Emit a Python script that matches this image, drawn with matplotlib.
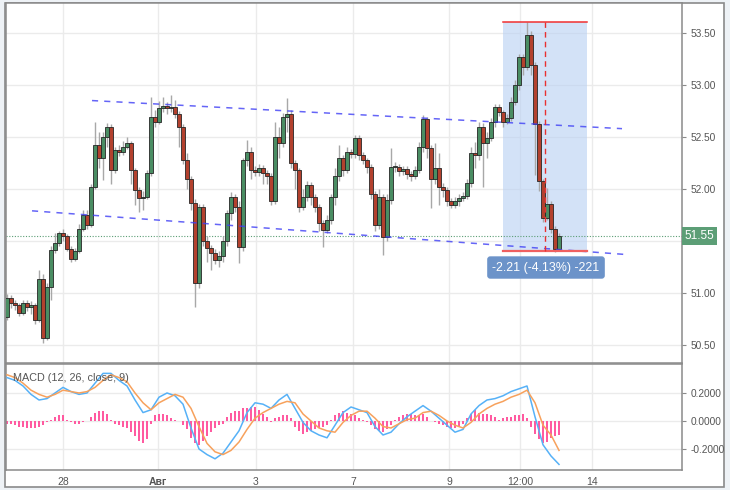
import matplotlib
matplotlib.use('Agg')
import matplotlib.pyplot as plt
from matplotlib.patches import Rectangle

plt.rcParams['font.family'] = ['Liberation Sans', 'DejaVu Sans']

# candles (one every 2 hours), index = position on the time axis
opens = [50.77, 50.95, 50.90, 50.88, 50.81, 50.90, 50.87, 50.88, 50.74, 51.13,
         50.57, 51.06, 51.41, 51.48, 51.58, 51.55, 51.42, 51.33, 51.40, 51.62,
         51.75, 51.65, 52.02, 52.42, 52.30, 52.50, 52.60, 52.18, 52.37, 52.36,
         52.40, 52.44, 52.18, 51.99, 51.91, 51.92, 52.15, 52.69, 52.64, 52.78,
         52.80, 52.78, 52.79, 52.72, 52.60, 52.28, 52.10, 51.87, 51.10, 51.83,
         51.50, 51.43, 51.38, 51.32, 51.36, 51.50, 51.77, 51.92, 51.83, 51.44,
         52.28, 52.36, 52.18, 52.16, 52.20, 52.15, 52.12, 51.88, 52.50, 52.44,
         52.69, 52.72, 52.25, 52.18, 51.83, 51.92, 52.04, 51.92, 51.83, 51.67,
         51.61, 51.70, 51.92, 52.12, 52.30, 52.18, 52.36, 52.34, 52.49, 52.33,
         52.28, 52.21, 51.95, 51.65, 51.92, 51.54, 51.89, 52.21, 52.21, 52.17,
         52.19, 52.14, 52.12, 52.18, 52.40, 52.67, 52.39, 52.10, 52.20, 52.02,
         51.99, 51.88, 51.85, 51.88, 51.91, 51.93, 52.06, 52.35, 52.33, 52.60,
         52.44, 52.49, 52.64, 52.79, 52.74, 52.64, 52.68, 52.84, 53.00, 53.27,
         53.17, 53.48, 53.19, 52.62, 52.08, 51.72, 51.86, 51.62, 51.42]
closes = [50.95, 50.90, 50.88, 50.81, 50.90, 50.87, 50.88, 50.74, 51.13, 50.57,
          51.06, 51.41, 51.48, 51.58, 51.55, 51.42, 51.33, 51.40, 51.62, 51.75,
          51.65, 52.02, 52.42, 52.30, 52.50, 52.60, 52.18, 52.37, 52.36, 52.40,
          52.44, 52.18, 51.99, 51.91, 51.92, 52.15, 52.69, 52.64, 52.78, 52.80,
          52.78, 52.79, 52.72, 52.60, 52.28, 52.10, 51.87, 51.10, 51.83, 51.50,
          51.43, 51.38, 51.32, 51.36, 51.50, 51.77, 51.92, 51.83, 51.44, 52.28,
          52.36, 52.18, 52.16, 52.20, 52.15, 52.12, 51.88, 52.50, 52.44, 52.69,
          52.72, 52.25, 52.18, 51.83, 51.92, 52.04, 51.92, 51.83, 51.67, 51.61,
          51.70, 51.92, 52.12, 52.30, 52.18, 52.36, 52.34, 52.49, 52.33, 52.28,
          52.21, 51.95, 51.65, 51.92, 51.54, 51.89, 52.21, 52.21, 52.17, 52.19,
          52.14, 52.12, 52.18, 52.40, 52.67, 52.39, 52.10, 52.20, 52.02, 51.99,
          51.88, 51.85, 51.88, 51.91, 51.93, 52.06, 52.35, 52.33, 52.60, 52.44,
          52.49, 52.64, 52.79, 52.74, 52.64, 52.68, 52.84, 53.00, 53.27, 53.17,
          53.48, 53.19, 52.62, 52.08, 51.72, 51.86, 51.62, 51.42, 51.55]
highs = [50.99, 50.98, 50.93, 50.90, 50.93, 50.93, 50.92, 50.90, 51.22, 51.18,
         51.10, 51.45, 51.58, 51.60, 51.62, 51.57, 51.45, 51.43, 51.66, 51.80,
         51.80, 52.05, 52.64, 52.55, 52.55, 52.63, 52.62, 52.40, 52.42, 52.46,
         52.50, 52.46, 52.20, 52.02, 51.98, 52.18, 52.88, 52.76, 52.85, 52.88,
         52.84, 52.90, 52.86, 52.75, 52.62, 52.35, 52.12, 51.90, 51.86, 51.86,
         51.55, 51.46, 51.42, 51.40, 51.55, 51.80, 51.97, 51.95, 51.88, 52.30,
         52.47, 52.40, 52.22, 52.24, 52.23, 52.18, 52.15, 52.64, 52.60, 52.73,
         52.87, 52.76, 52.28, 52.20, 52.00, 52.08, 52.07, 51.95, 51.86, 51.70,
         51.75, 51.95, 52.20, 52.42, 52.33, 52.40, 52.38, 52.52, 52.52, 52.36,
         52.30, 52.24, 51.98, 52.00, 51.95, 51.95, 52.39, 52.26, 52.24, 52.22,
         52.22, 52.17, 52.22, 52.45, 52.71, 52.69, 52.42, 52.44, 52.35, 52.06,
         52.02, 51.91, 51.92, 51.95, 51.97, 52.10, 52.40, 52.45, 52.64, 52.63,
         52.55, 52.68, 52.82, 52.82, 52.76, 52.72, 52.88, 53.05, 53.30, 53.30,
         53.61, 53.52, 53.22, 52.65, 52.10, 52.01, 51.88, 51.64, 51.58]
lows = [50.74, 50.86, 50.84, 50.78, 50.79, 50.83, 50.80, 50.70, 50.72, 50.52,
        50.55, 50.93, 51.38, 51.45, 51.50, 51.40, 51.30, 51.31, 51.38, 51.60,
        51.62, 51.63, 52.00, 52.20, 52.09, 52.40, 52.05, 52.15, 52.32, 52.33,
        52.38, 52.05, 51.85, 51.78, 51.80, 51.90, 52.12, 52.60, 52.62, 52.74,
        52.72, 52.74, 52.68, 52.40, 52.24, 52.00, 51.80, 50.87, 51.05, 51.45,
        51.30, 51.22, 51.28, 51.25, 51.30, 51.45, 51.70, 51.78, 51.29, 51.40,
        52.22, 52.10, 52.12, 52.12, 52.05, 52.05, 51.85, 51.86, 52.30, 52.40,
        52.55, 52.20, 52.00, 51.78, 51.80, 51.88, 51.85, 51.78, 51.60, 51.44,
        51.58, 51.66, 51.85, 52.08, 52.12, 52.15, 52.30, 52.30, 52.28, 52.24,
        52.15, 51.90, 51.60, 51.62, 51.37, 51.50, 51.86, 52.16, 52.12, 52.13,
        52.10, 52.08, 52.10, 52.15, 52.36, 52.30, 51.82, 52.05, 51.85, 51.92,
        51.84, 51.82, 51.82, 51.84, 51.88, 51.90, 52.02, 52.20, 52.28, 52.02,
        52.30, 52.46, 52.60, 52.70, 52.60, 52.62, 52.65, 52.81, 52.95, 53.10,
        53.14, 53.10, 52.13, 51.98, 51.68, 51.70, 51.58, 51.39, 51.40]

# MACD (12, 26, close, 9), lines read every second candle
line_idx = list(range(0, 139, 2))
macd_line = [0.31, 0.29, 0.25, 0.19, 0.15, 0.16, 0.20, 0.24, 0.21, 0.19,
             0.20, 0.27, 0.34, 0.34, 0.29, 0.25, 0.15, 0.06, 0.08, 0.17,
             0.20, 0.18, 0.12, -0.05, -0.20, -0.24, -0.27, -0.23, -0.15, -0.07,
             0.06, 0.13, 0.12, 0.09, 0.15, 0.19, 0.09, -0.01, -0.07, -0.10,
             -0.12, -0.03, 0.06, 0.10, 0.08, 0.06, -0.04, -0.10, -0.08, -0.02,
             0.03, 0.07, 0.11, 0.07, 0.02, -0.03, -0.08, -0.06, 0.05, 0.11,
             0.15, 0.16, 0.18, 0.21, 0.23, 0.25, 0.03, -0.17, -0.25, -0.31]
signal_line = [0.33, 0.31, 0.27, 0.22, 0.19, 0.17, 0.19, 0.22, 0.21, 0.20,
               0.21, 0.24, 0.29, 0.33, 0.31, 0.28, 0.20, 0.13, 0.08, 0.13,
               0.16, 0.19, 0.17, 0.09, -0.04, -0.16, -0.22, -0.24, -0.21, -0.15,
               -0.06, 0.02, 0.06, 0.09, 0.12, 0.14, 0.13, 0.05, 0.00, -0.05,
               -0.07, -0.08, -0.01, 0.04, 0.07, 0.07, 0.02, -0.04, -0.05, -0.02,
               0.01, 0.02, 0.06, 0.07, 0.04, 0.00, -0.03, -0.05, -0.01, 0.05,
               0.09, 0.12, 0.14, 0.17, 0.19, 0.22, 0.13, -0.03, -0.10, -0.21]
hist = [-0.02, -0.02, -0.03, -0.04, -0.04, -0.05, -0.05, -0.05, -0.04, -0.03,
        -0.01, 0.01, 0.03, 0.04, 0.04, 0.01, -0.01, -0.02, -0.02, -0.01,
        0.00, 0.03, 0.06, 0.07, 0.07, 0.05, 0.01, -0.02, -0.03, -0.04,
        -0.05, -0.08, -0.11, -0.14, -0.16, -0.13, -0.02, 0.04, 0.05, 0.05,
        0.04, 0.02, 0.01, 0.00, -0.03, -0.06, -0.12, -0.16, -0.17, -0.14,
        -0.11, -0.08, -0.05, -0.03, -0.02, 0.03, 0.06, 0.07, 0.07, 0.09,
        0.09, 0.10, 0.10, 0.08, 0.05, 0.03, -0.01, 0.02, 0.03, 0.04,
        0.04, 0.02, -0.04, -0.07, -0.09, -0.08, -0.07, -0.06, -0.05, -0.04,
        -0.03, 0.01, 0.04, 0.06, 0.07, 0.06, 0.05, 0.04, 0.02, 0.01,
        -0.01, -0.03, -0.06, -0.07, -0.08, -0.06, -0.03, 0.01, 0.03, 0.04,
        0.05, 0.05, 0.04, 0.04, 0.05, 0.03, 0.00, -0.01, -0.02, -0.03,
        -0.04, -0.05, -0.05, -0.04, -0.02, 0.02, 0.05, 0.08, 0.06, 0.05,
        0.05, 0.04, 0.03, 0.01, 0.02, 0.03, 0.03, 0.04, 0.04, 0.05,
        0.02, -0.04, -0.09, -0.13, -0.16, -0.15, -0.12, -0.11, -0.10]

tick_pos = [14, 37.75, 62.25, 86.5, 110.5, 128.25, 146.25]
tick_labels = ['28', 'Авг', '3', '7', '9', '12:00', '14']
price_ticks = [50.5, 51.0, 51.5, 52.0, 52.5, 53.0, 53.5]
macd_ticks = [-0.2, 0.0, 0.2]

# drawings on the chart
upper_trend = ([21.25, 153.75], [52.85, 52.58])
lower_trend = ([6.25, 154.75], [51.79, 51.37])
range_x = (124, 145)
range_hi, range_lo = 53.61, 51.40
last_price = 51.55

W, H = 730, 490
fig = plt.figure(figsize=(W / 100, H / 100), dpi=100)
fig.patch.set_facecolor('#eef2f6')
frame = Rectangle((5 / W, 1 - 487 / H), 719 / W, 484 / H, transform=fig.transFigure,
                  facecolor='white', edgecolor='#8a8a8a', lw=1.2, zorder=-10)
fig.patches.append(frame)

def px_rect(x0, y0, x1, y1):
    return [x0 / W, 1 - y1 / H, (x1 - x0) / W, (y1 - y0) / H]

ax = fig.add_axes(px_rect(5.7, 3, 682, 363))
ax2 = fig.add_axes(px_rect(5.7, 364, 682, 470), sharex=ax)
xlim = (-0.33, 168.75)
grid_c = '#ebebeb'
text_c = '#555555'

for a in (ax, ax2):
    a.set_facecolor('white')
    for s in a.spines.values():
        s.set_color('#8a8a8a')
        s.set_linewidth(1.1)
    a.yaxis.tick_right()
    a.tick_params(axis='y', direction='out', length=3, color='#8a8a8a',
                  labelsize=7.3, labelcolor=text_c, pad=3)
    a.set_xticks(tick_pos)
    for t in tick_pos:
        a.axvline(t, color=grid_c, lw=1, zorder=0)

# price panel
for p in price_ticks:
    ax.axhline(p, color=grid_c, lw=1, zorder=0)
ax.set_yticks(price_ticks)
ax.set_yticklabels(['%.2f' % p for p in price_ticks])
ax.set_ylim(50.327, 53.788)
ax.set_xlim(*xlim)
ax.tick_params(axis='x', length=0, labelbottom=False)

ax.add_patch(Rectangle((range_x[0], range_lo), range_x[1] - range_x[0], range_hi - range_lo,
                       facecolor='#b9d1f3', alpha=0.62, edgecolor='none', zorder=1))

idx = list(range(len(closes)))
ax.vlines(idx, lows, highs, color='#a8a8a8', lw=1, zorder=2)
up_c = ['#4a8d63' if c >= o else '#b3412e' for o, c in zip(opens, closes)]
body = [max(abs(c - o), 0.012) for o, c in zip(opens, closes)]
ax.bar(idx, body, bottom=[min(o, c) for o, c in zip(opens, closes)], width=0.8,
       color=up_c, edgecolor='#262626', linewidth=0.6, zorder=3)

ax.plot(*upper_trend, color='#3f3ff5', lw=1.1, dashes=(4, 4), alpha=0.8, zorder=4)
ax.plot(*lower_trend, color='#3f3ff5', lw=1.1, dashes=(4, 4), alpha=0.8, zorder=4)
ax.axhline(last_price, color='#5c9e76', lw=0.8, ls=(0, (1, 1.5)), zorder=1)

ax.plot(range_x, [range_hi, range_hi], color='#f03030', lw=1.1, zorder=5)
ax.plot(range_x, [range_lo, range_lo], color='#f06060', lw=1.6, zorder=5)
mid = (range_x[0] + range_x[1]) / 2
ax.plot([mid, mid], [range_lo, range_hi], color='#e83030', lw=1, dashes=(4, 3), zorder=5)
ax.text(mid + 0.25, 51.245, '-2.21 (-4.13%) -221', ha='center', va='center', fontsize=8.9,
        color='white', zorder=6,
        bbox=dict(boxstyle='round,pad=0.42,rounding_size=0.25', fc='#6c93c9', ec='none'))
ax.text(1.004, last_price, '%.2f' % last_price, transform=ax.get_yaxis_transform(),
        ha='left', va='center', fontsize=8.5, color='white', zorder=7,
        bbox=dict(boxstyle='square,pad=0.25', fc='#5c9e76', ec='none'), clip_on=False)

# MACD panel
for v in macd_ticks:
    ax2.axhline(v, color=grid_c, lw=1, zorder=0)
ax2.set_yticks(macd_ticks)
ax2.set_yticklabels(['%.4f' % v for v in macd_ticks])
ax2.set_ylim(-0.35, 0.407)
ax2.bar(idx, hist, width=0.4, color='#ff5aa0', zorder=2)
ax2.plot(line_idx, macd_line, color='#56b1f7', lw=1.1, zorder=3)
ax2.plot(line_idx, signal_line, color='#f7a15c', lw=1.1, zorder=3)
ax2.text(1.5, 0.305, 'MACD (12, 26, close, 9)', fontsize=7.8, color=text_c, va='center', zorder=5)
ax2.set_xticklabels(tick_labels)
ax2.tick_params(axis='x', length=0, labelsize=7.5, labelcolor=text_c, pad=5)
ax2.get_xticklabels()[1].set_fontweight('bold')
ax2.set_xlim(*xlim)

fig.savefig('out.png', dpi=100, facecolor=fig.get_facecolor())
